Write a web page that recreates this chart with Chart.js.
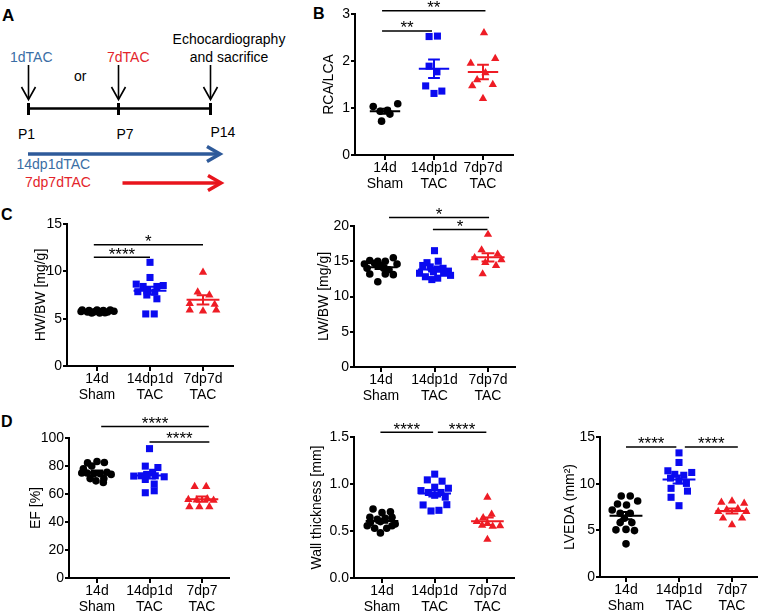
<!DOCTYPE html>
<html><head><meta charset="utf-8">
<script src="https://cdn.jsdelivr.net/npm/chart.js@4.4.0/dist/chart.umd.min.js"></script>
<style>
html,body{margin:0;padding:0;background:#fff;width:760px;height:614px;overflow:hidden;position:relative;font-family:"Liberation Sans",Arial,sans-serif;}
canvas{position:absolute;}
svg{position:absolute;left:0;top:0;}
.lt{position:absolute;font-weight:bold;font-size:16px;line-height:16px;color:#000;}
</style></head><body>
<svg width="300" height="200" font-family="Liberation Sans, Arial, sans-serif" font-size="14">
  <text x="2" y="21" font-size="17" font-weight="bold">A</text>
  <text x="10" y="62" fill="#3a6ea5">1dTAC</text>
  <text x="107" y="62" fill="#e3242b">7dTAC</text>
  <text x="74" y="81" fill="#000">or</text>
  <text x="229" y="44" text-anchor="middle">Echocardiography</text>
  <text x="229" y="62" text-anchor="middle">and sacrifice</text>
  <g stroke="#000" stroke-width="1.6" fill="none">
    <line x1="28.5" y1="65" x2="28.5" y2="99"/><polyline points="21.5,87 28.5,99.5 35.5,87"/>
    <line x1="118.5" y1="65" x2="118.5" y2="99"/><polyline points="111.5,87 118.5,99.5 125.5,87"/>
    <line x1="210.5" y1="65" x2="210.5" y2="99"/><polyline points="203.5,87 210.5,99.5 217.5,87"/>
  </g>
  <g stroke="#000" fill="none">
    <line x1="28.5" y1="108.5" x2="210.5" y2="108.5" stroke-width="2.5"/>
    <line x1="28.5" y1="103" x2="28.5" y2="115" stroke-width="3"/>
    <line x1="118.5" y1="103" x2="118.5" y2="115" stroke-width="3"/>
    <line x1="210.5" y1="103" x2="210.5" y2="115" stroke-width="3"/>
  </g>
  <text x="18" y="139">P1</text>
  <text x="116.5" y="139">P7</text>
  <text x="210.5" y="137">P14</text>
  <g stroke="#2e5a9a" stroke-width="3.5" fill="none">
    <line x1="28" y1="154" x2="219" y2="154"/><polyline points="207,146.5 220,154 207,161.5"/>
  </g>
  <text x="16.5" y="169" fill="#3a6ea5">14dp1dTAC</text>
  <g stroke="#e8141c" stroke-width="3.5" fill="none">
    <line x1="122.5" y1="183" x2="220" y2="183"/><polyline points="208,175.5 221,183 208,190.5"/>
  </g>
  <text x="25" y="187" fill="#e3242b">7dp7dTAC</text>
</svg>
<div class="lt" style="left:313px;top:6px;">B</div>
<div class="lt" style="left:1px;top:207px;">C</div>
<div class="lt" style="left:1px;top:414px;">D</div>
<script>
// ---------- data ----------
const catsBC = [['14d','Sham'],['14dp1d','TAC'],['7dp7d','TAC']];
const catsD  = [['14d','Sham'],['14dp1d','TAC'],['7dp7','TAC']];
const catsWT = [['14d','Sham'],['14dp1d','TAC'],['7dp7d','TAC']];

// B  RCA/LCA
const rcaTicks = [0,1,2,3];
const rcaSham = [1.03,1.09,0.93,0.95,0.87,0.72];
const rcaShamJit = [-0.24,0.26,-0.1,0.05,0.1,-0.07];
const rca14 = [2.52,2.53,1.89,1.77,1.47,1.31,1.36];
const rca14Jit = [-0.1,0.07,-0.1,0.06,-0.17,0.0,0.16];
const rca7 = [2.6,2.05,1.95,1.75,1.6,1.47,1.5,1.2];
const rca7Jit = [0.02,0.25,-0.25,0.05,-0.12,-0.22,0.2,0.0];
const rcaSig = [[-0.06,0.96,2.64,'**'],[-0.06,2.05,3.07,'**']];

// C  HW/BW
const hwTicks = [0,5,10,15];
const hwSham = [5.9,5.85,5.9,5.85,5.9,5.75,5.7,5.72,5.75,5.7,5.78,5.6,5.6,5.62];
const hwShamJit = [-0.28,-0.15,0,0.12,0.25,-0.3,-0.18,-0.05,0.08,0.2,0.32,-0.1,0.05,0.15];
const hw14 = [10.95,9.35,8.65,8.5,8.4,8.4,7.85,8.0,7.8,7.5,7.1,5.5,5.5];
const hw14Jit = [0,0,-0.26,0.25,-0.13,0.13,-0.23,-0.06,0.09,-0.06,0.13,-0.08,0.08];
const hw7 = [9.9,7.8,7.5,6.6,6.5,5.9,5.8,5.9];
const hw7Jit = [0,-0.1,0.12,-0.25,0.22,-0.25,0,0.25];
const hwSig = [[-0.06,1.0,11.5,'****'],[-0.06,2.0,12.8,'*']];

// C  LW/BW
const lwTicks = [0,5,10,15,20];
const lwSham = [15.1,15.0,15.0,15.5,14.6,14.7,14.4,14.6,14.0,13.8,14.0,13.2,13.2,13.1,12.1];
const lwShamJit = [-0.21,-0.06,0.08,0.23,-0.31,-0.12,0,0.3,-0.26,0.15,0.05,-0.21,0.08,0.23,-0.06];
const lw14 = [16.5,15.0,14.8,14.4,14.2,14.0,13.9,13.6,13.3,13.3,13.5,12.8,12.6,12.4,13.0];
const lw14Jit = [0,0.07,-0.14,-0.22,-0.08,0.16,0.05,0.26,-0.28,0.17,-0.02,-0.17,0.06,-0.05,0.3];
const lw7 = [18.8,16.6,16.0,15.5,15.2,14.8,14.4,13.2];
const lw7Jit = [0,-0.12,0.18,-0.25,0.25,-0.05,0.15,-0.1];
const lwSig = [[0.15,2.02,21.2,'*'],[0.97,1.99,19.5,'*']];

// D  EF
const efTicks = [0,20,40,60,80,100];
const efSham = [83.2,82.2,82.5,80,78,75,75,74.5,74.5,75.5,74,71,71,69.4,68.3];
const efShamJit = [0,-0.18,0.14,-0.1,-0.26,-0.29,-0.19,-0.06,0.06,0.19,0.27,-0.13,0.13,-0.02,0.12];
const ef14 = [92.4,79.9,78.9,75.5,74,73,73,72.8,72.3,70.4,67.1,62.3,60.9];
const ef14Jit = [0,-0.08,0.16,0.06,-0.05,-0.16,0.11,-0.3,0.28,-0.08,0.09,0.09,-0.08];
const ef7 = [65.3,65.3,56,55.7,56.5,55.5,50.9,50.9,50.9];
const ef7Jit = [-0.14,0.08,-0.26,-0.1,0.1,0.22,-0.24,-0.05,0.14];
const efSig = [[0.08,2.13,108.3,'****'],[1.0,2.14,97.2,'****']];

// D  Wall thickness
const wtTicks = [0,0.5,1.0,1.5];
const wtSham = [0.734,0.695,0.705,0.645,0.624,0.635,0.645,0.59,0.60,0.575,0.556,0.53,0.53,0.556,0.48];
const wtShamJit = [-0.17,0,0.16,-0.23,-0.09,0.06,0.19,-0.22,-0.03,0.25,-0.28,-0.14,0.09,0.19,-0.03];
const wt14 = [1.105,1.044,1.03,0.966,0.93,0.955,0.91,0.91,0.88,0.86,0.777,0.78,0.713,0.72];
const wt14Jit = [0,-0.14,0.14,0,-0.26,0.26,-0.12,0.12,0.0,0.2,-0.22,0.23,-0.07,0.08];
const wt7 = [0.859,0.677,0.641,0.60,0.58,0.556,0.55,0.56,0.41];
const wt7Jit = [0,0.08,-0.08,-0.2,0,0.24,0.1,-0.1,0];
const wtSig = [[-0.03,0.97,1.55,'****'],[1.06,1.98,1.55,'****']];

// D  LVEDA
const lvTicks = [0,5,10,15];
const lvSham = [8.68,8.68,7.82,7.72,8.14,7.18,6.83,6.83,6.3,5.83,5.83,5.05,5.1,4.97,3.55];
const lvShamJit = [-0.09,0.08,-0.16,0.01,0.22,-0.26,-0.11,0.08,-0.03,-0.11,0.11,-0.19,0,0.16,0];
const lv14 = [13.3,12.27,11.38,11.2,11.0,10.9,10.6,10.3,10.03,9.5,9.2,8.54,7.64];
const lv14Jit = [0,0,-0.21,0.24,-0.08,0.09,-0.16,0,0.14,-0.15,0.16,-0.15,0];
const lv7 = [8.0,8.14,7.9,7.0,7.2,7.3,7.0,6.3,6.3,5.58];
const lv7Jit = [-0.2,0,0.23,-0.26,-0.1,0.11,0.27,-0.17,0.19,0];
const lvSig = [[0,0.95,13.94,'****'],[1.11,2.11,13.94,'****']];

// ---------- drawing ----------
const FAM = '"Liberation Sans", Arial, sans-serif';
const BLACK = '#000000', BLUE = '#0a0af0', RED = '#ee1c25';
const AW = 60, PR = 6, XH = 42;

const statsPlugin = {
  id:'stats',
  afterDatasetsDraw(chart){
    const ctx = chart.ctx, xs = chart.scales.x, ys = chart.scales.y;
    chart.data.datasets.forEach((ds,i)=>{
      const v = ds.data.map(p=>p.y), n = v.length;
      const m = v.reduce((a,b)=>a+b,0)/n;
      const sd = Math.sqrt(v.reduce((a,b)=>a+(b-m)*(b-m),0)/(n-1));
      const se = sd/Math.sqrt(n);
      ctx.save();
      ctx.strokeStyle = ds.borderColor; ctx.lineWidth = 2;
      const yM = ys.getPixelForValue(m), yT = ys.getPixelForValue(m+se), yB = ys.getPixelForValue(m-se);
      ctx.beginPath();
      ctx.moveTo(xs.getPixelForValue(i-0.31), yM); ctx.lineTo(xs.getPixelForValue(i+0.31), yM);
      const xc = xs.getPixelForValue(i);
      ctx.moveTo(xc, yT); ctx.lineTo(xc, yB);
      ctx.moveTo(xs.getPixelForValue(i-0.12), yT); ctx.lineTo(xs.getPixelForValue(i+0.12), yT);
      ctx.moveTo(xs.getPixelForValue(i-0.12), yB); ctx.lineTo(xs.getPixelForValue(i+0.12), yB);
      ctx.stroke();
      ctx.restore();
    });
  },
  afterDraw(chart){
    const sig = chart.options.plugins.stats.sig || [];
    const ctx = chart.ctx, xs = chart.scales.x, ys = chart.scales.y;
    ctx.save();
    sig.forEach(b=>{
      const x1 = xs.getPixelForValue(b[0]), x2 = xs.getPixelForValue(b[1]), y = ys.getPixelForValue(b[2]);
      ctx.strokeStyle = '#000'; ctx.lineWidth = 1.5;
      ctx.beginPath(); ctx.moveTo(x1,y); ctx.lineTo(x2,y); ctx.stroke();
      ctx.fillStyle = '#000'; ctx.font = '17px '+FAM; ctx.textAlign='center'; ctx.textBaseline='alphabetic';
      ctx.fillText(b[3], (x1+x2)/2, y+2.5);
    });
    ctx.restore();
  }
};

function makePanel(o){
  const PT = o.pt;
  const w = Math.round(o.R - o.L + AW + PR), h = Math.round(o.B - o.T + PT + XH);
  const cv = document.createElement('canvas');
  cv.width = w; cv.height = h;
  cv.style.left = (o.L - AW) + 'px'; cv.style.top = (o.T - PT) + 'px';
  cv.style.width = w + 'px'; cv.style.height = h + 'px';
  document.body.appendChild(cv);
  const xmin = (o.L - o.x0)/o.unit, xmax = (o.R - o.x0)/o.unit;
  const styles = [['circle',3.8,BLACK],['rect',5,BLUE],['triangle',4.8,RED]];
  const datasets = o.groups.map((g,i)=>({
    data: g[0].map((v,j)=>({x: i + g[1][j], y: v})),
    pointStyle: styles[i][0], pointRadius: styles[i][1], pointHoverRadius: styles[i][1],
    backgroundColor: styles[i][2], borderColor: styles[i][2], borderWidth: 0
  }));
  const tfont = {family: FAM, size: 14};
  new Chart(cv, {
    type: 'scatter',
    data: {datasets},
    options: {
      responsive: false, animation: false, devicePixelRatio: 1, events: [],
      layout: {padding: {top: PT, right: PR, left: 0, bottom: 0}},
      plugins: {legend: {display: false}, tooltip: {enabled: false}, stats: {sig: o.sig}},
      scales: {
        x: {
          type: 'linear', min: xmin, max: xmax,
          afterBuildTicks: s => { s.ticks = [0,1,2].map(v=>({value: v})); },
          afterFit: s => { s.height = XH; },
          ticks: {callback: v => o.cats[Math.round(v)], color: '#000', font: {family: FAM, size: 14, lineHeight: 1.08}, padding: 1, maxRotation: 0, autoSkip: false},
          grid: {drawOnChartArea: false, drawTicks: true, tickLength: 5, color: '#000', lineWidth: 2},
          border: {display: true, color: '#000', width: 2}
        },
        y: {
          type: 'linear', min: o.ticks[0], max: o.ticks[o.ticks.length-1],
          afterBuildTicks: s => { s.ticks = o.ticks.map(v=>({value: v})); },
          afterFit: s => { s.width = AW; },
          ticks: {callback: v => o.dec ? v.toFixed(o.dec) : String(v), color: '#000', font: tfont, padding: 1},
          grid: {drawOnChartArea: false, drawTicks: true, tickLength: 4, color: '#000', lineWidth: 2},
          border: {display: true, color: '#000', width: 2},
          title: {display: true, text: o.title, color: '#000', font: tfont, padding: {top: o.titleX - (o.L - AW) - 8.4, bottom: 0}}
        }
      }
    },
    plugins: [statsPlugin]
  });
}

makePanel({L:355,T:14,B:155,R:513,x0:385,unit:49,pt:14,ticks:rcaTicks,title:'RCA/LCA',titleX:329,cats:catsBC,
  groups:[[rcaSham,rcaShamJit],[rca14,rca14Jit],[rca7,rca7Jit]],sig:rcaSig});
makePanel({L:67,T:224,B:366,R:233,x0:97,unit:53,pt:40,ticks:hwTicks,title:'HW/BW [mg/g]',titleX:41,cats:catsBC,
  groups:[[hwSham,hwShamJit],[hw14,hw14Jit],[hw7,hw7Jit]],sig:hwSig});
makePanel({L:354,T:226,B:367,R:515,x0:381,unit:53.5,pt:40,ticks:lwTicks,title:'LW/BW [mg/g]',titleX:324.5,cats:catsBC,
  groups:[[lwSham,lwShamJit],[lw14,lw14Jit],[lw7,lw7Jit]],sig:lwSig});
makePanel({L:69,T:438,B:578,R:229,x0:97,unit:52.5,pt:40,ticks:efTicks,title:'EF [%]',titleX:36,cats:catsD,
  groups:[[efSham,efShamJit],[ef14,ef14Jit],[ef7,ef7Jit]],sig:efSig});
makePanel({L:354,T:437,B:578,R:514,x0:382,unit:52.7,pt:40,ticks:wtTicks,dec:1,title:'Wall thickness [mm]',titleX:317,cats:catsWT,
  groups:[[wtSham,wtShamJit],[wt14,wt14Jit],[wt7,wt7Jit]],sig:wtSig});
makePanel({L:600,T:437,B:577,R:757,x0:626,unit:53,pt:40,ticks:lvTicks,title:'LVEDA (mm²)',titleX:570,cats:catsD,
  groups:[[lvSham,lvShamJit],[lv14,lv14Jit],[lv7,lv7Jit]],sig:lvSig});
</script>
</body></html>
